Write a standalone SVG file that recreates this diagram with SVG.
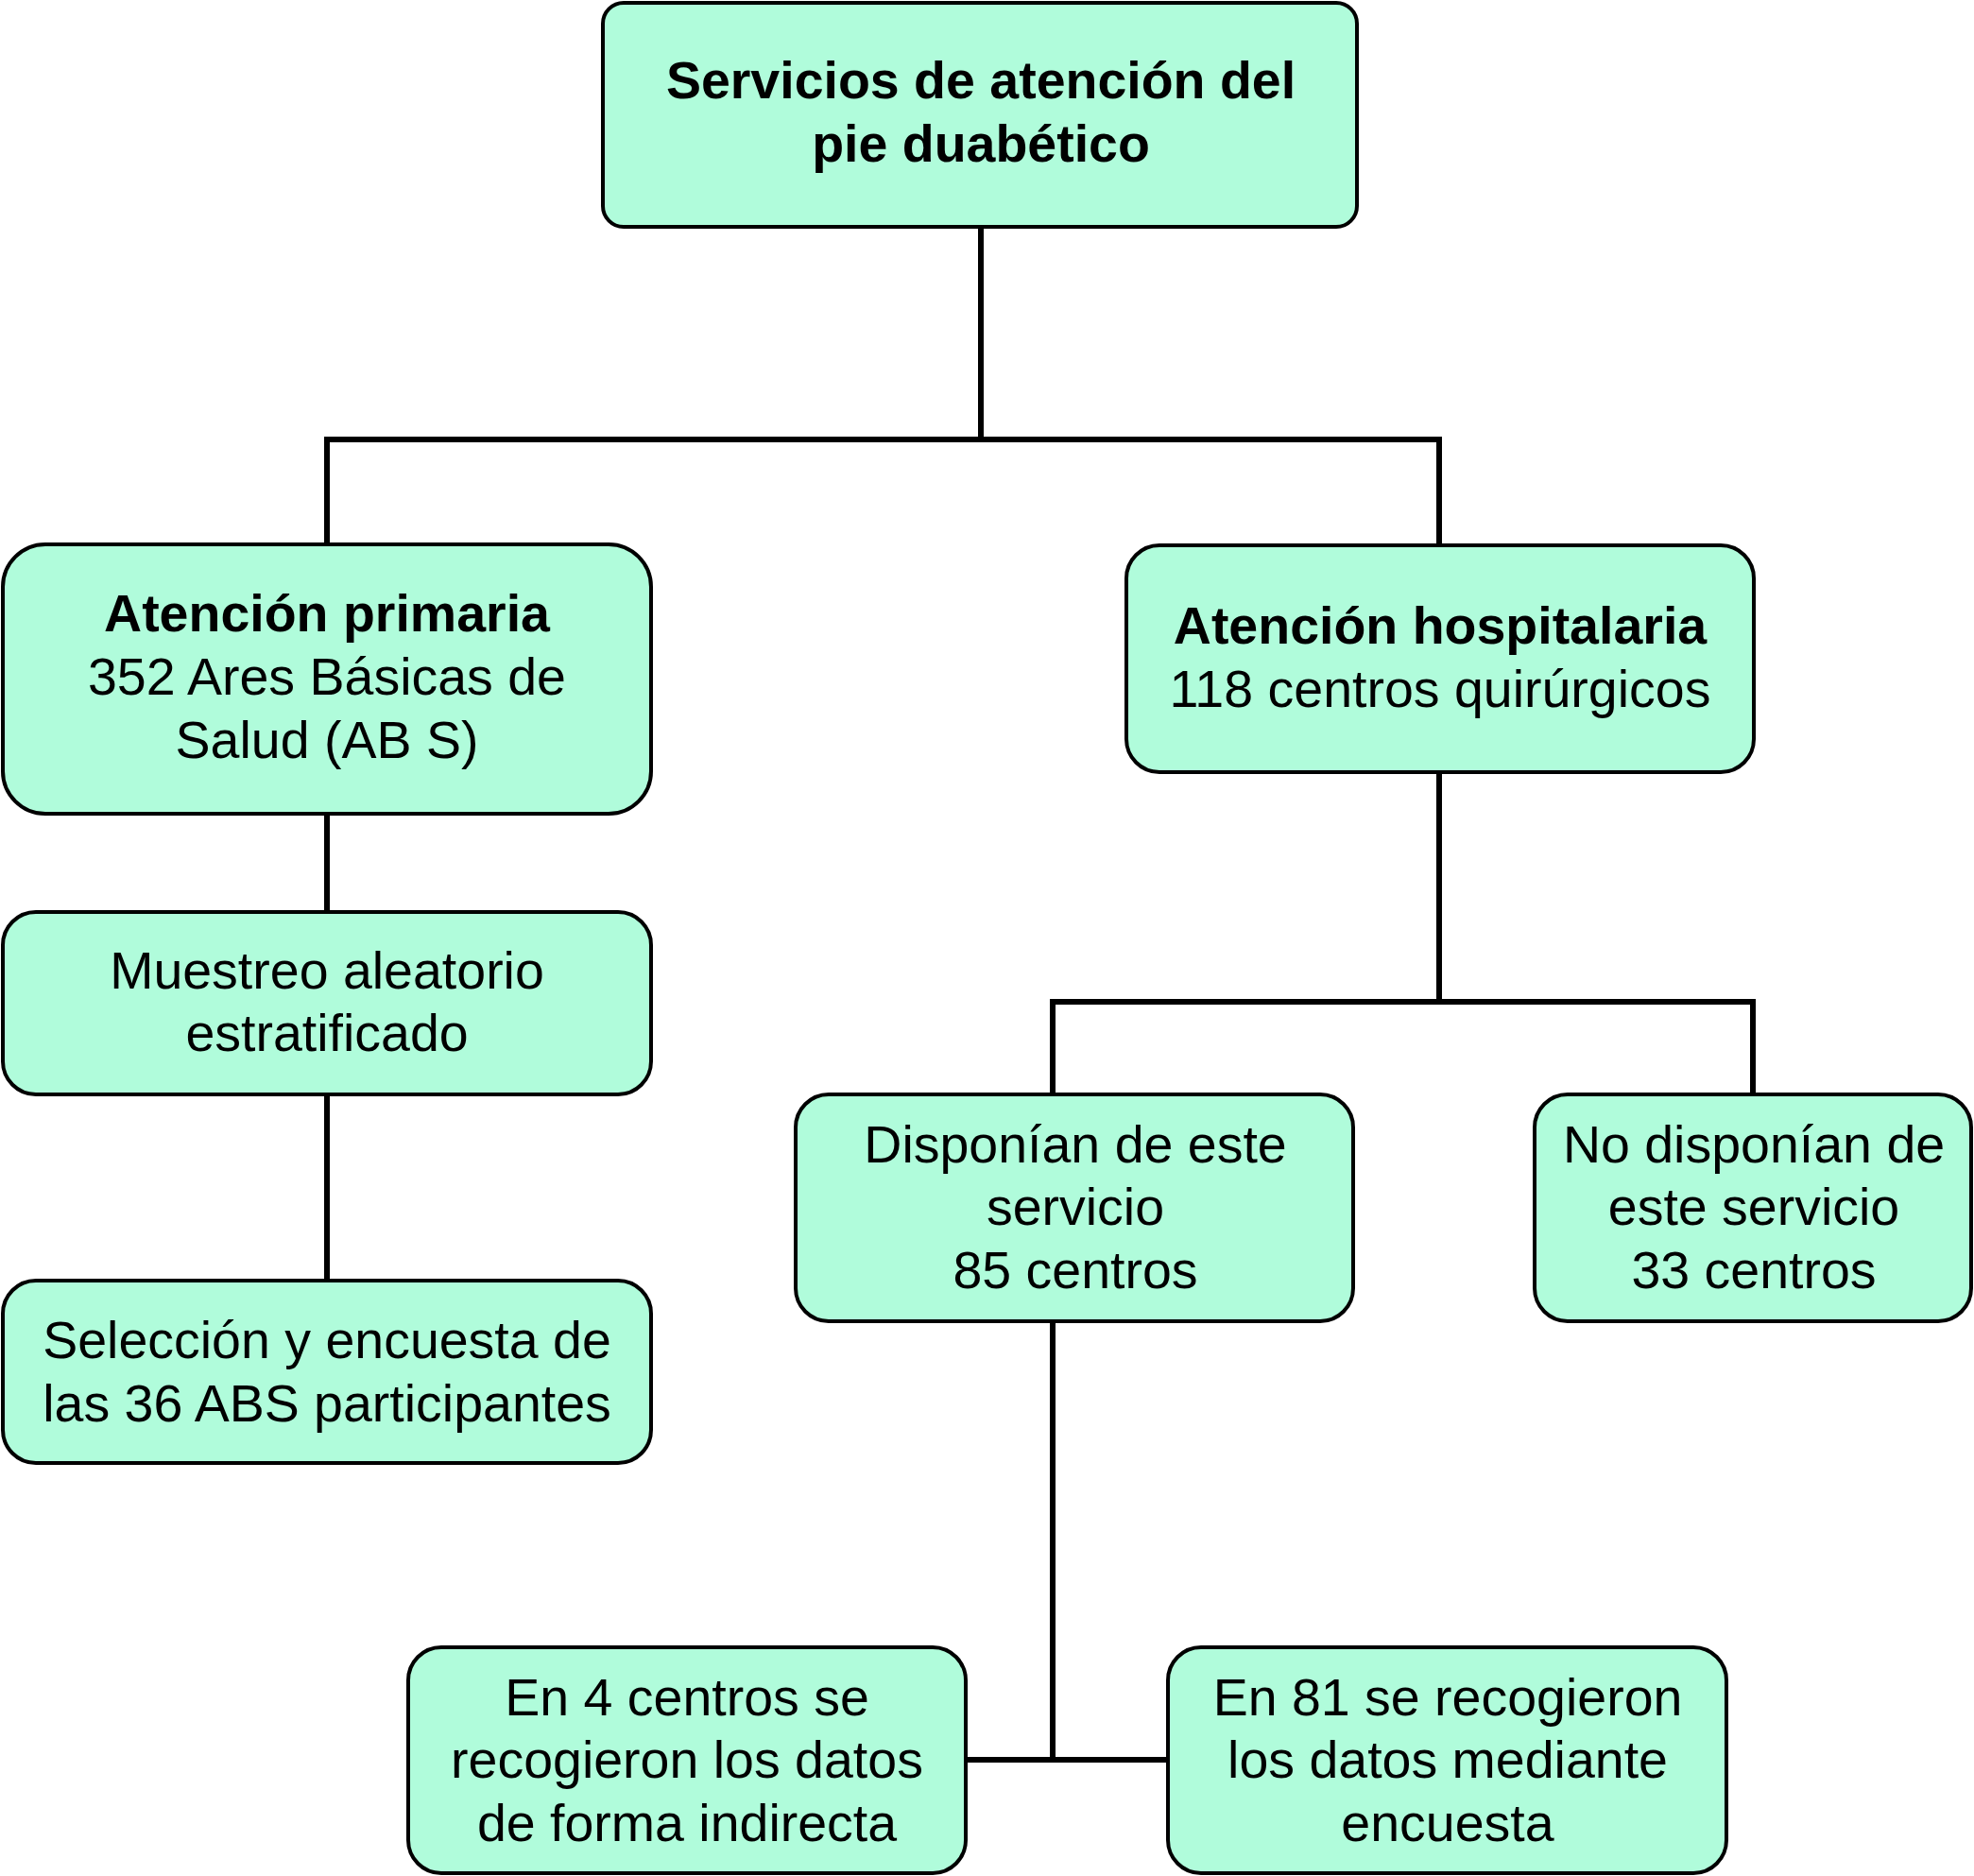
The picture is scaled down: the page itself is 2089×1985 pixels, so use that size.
<svg xmlns="http://www.w3.org/2000/svg" width="2089" height="1985" viewBox="0 0 2089 1985">
<style>
.box{fill:#b0fcdb;stroke:#000;stroke-width:4}
.t{font-family:"Liberation Sans",Arial,sans-serif;font-size:55.5px;fill:#000;text-anchor:middle}
.b{font-weight:bold}
.c{fill:none;stroke:#000;stroke-width:6}
</style>
<rect width="2089" height="1985" fill="#fff"/>
<g id="connectors">
<path class="c" d="M1038 240V465M346 576V465H1523V577"/>
<path class="c" d="M1523 817V1060M1114 1158V1060H1855V1158"/>
<path class="c" d="M1114 1398V1862M1022 1862H1236"/>
<path class="c" d="M346 861V965M346 1158V1355"/>
</g>
<g id="n-top">
<rect class="box" x="638" y="3" width="798" height="237" rx="22"/>
<text class="t b" x="1038" y="104">Servicios de atención del</text>
<text class="t b" x="1038" y="171">pie duabético</text>
</g>
<g id="n-primaria">
<rect class="box" x="3" y="576" width="686" height="285" rx="45"/>
<text class="t b" x="346" y="668">Atención primaria</text>
<text class="t" x="346" y="735">352 Ares Básicas de</text>
<text class="t" x="346" y="802">Salud (AB S)</text>
</g>
<g id="n-hospitalaria">
<rect class="box" x="1192" y="577" width="664" height="240" rx="35"/>
<text class="t b" x="1524" y="681">Atención hospitalaria</text>
<text class="t" x="1524" y="748">118 centros quirúrgicos</text>
</g>
<g id="n-muestreo">
<rect class="box" x="3" y="965" width="686" height="193" rx="35"/>
<text class="t" x="346" y="1046">Muestreo aleatorio</text>
<text class="t" x="346" y="1112">estratificado</text>
</g>
<g id="n-seleccion">
<rect class="box" x="3" y="1355" width="686" height="193" rx="35"/>
<text class="t" x="346" y="1437">Selección y encuesta de</text>
<text class="t" x="346" y="1504">las 36 ABS participantes</text>
</g>
<g id="n-disponian">
<rect class="box" x="842" y="1158" width="590" height="240" rx="35"/>
<text class="t" x="1138" y="1230">Disponían de este</text>
<text class="t" x="1138" y="1296">servicio</text>
<text class="t" x="1138" y="1363">85 centros</text>
</g>
<g id="n-nodisponian">
<rect class="box" x="1624" y="1158" width="462" height="240" rx="35"/>
<text class="t" x="1856" y="1230">No disponían de</text>
<text class="t" x="1856" y="1296">este servicio</text>
<text class="t" x="1856" y="1363">33 centros</text>
</g>
<g id="n-en4">
<rect class="box" x="432" y="1743" width="590" height="239" rx="35"/>
<text class="t" x="727" y="1815">En 4 centros se</text>
<text class="t" x="727" y="1881">recogieron los datos</text>
<text class="t" x="727" y="1948">de forma indirecta</text>
</g>
<g id="n-en81">
<rect class="box" x="1236" y="1743" width="591" height="239" rx="35"/>
<text class="t" x="1532" y="1815">En 81 se recogieron</text>
<text class="t" x="1532" y="1881">los datos mediante</text>
<text class="t" x="1532" y="1948">encuesta</text>
</g>
</svg>
